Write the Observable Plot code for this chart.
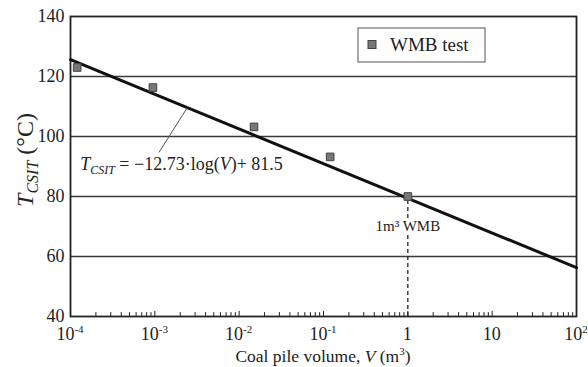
<!DOCTYPE html>
<html><head><meta charset="utf-8">
<script src="https://cdn.jsdelivr.net/npm/d3@7"></script>
<script src="https://cdn.jsdelivr.net/npm/@observablehq/plot@0.6"></script>
<style>
body{margin:0;background:#fff;} svg{display:block;}
svg text, svg tspan { font-family: "Liberation Serif", Tinos, "DejaVu Serif", serif !important; }
</style>
</head><body><div id="chart"></div>
<script>
// WMB test points
const testV = [1.2e-4, 9.5e-4, 0.015, 0.12, 1];
const testT = [123, 116.3, 103.2, 93.2, 80];
// fitted line as drawn
const fitV = [1e-4, 1e2];
const fitT = [125.6, 56.3];
// ticks
const yTicks = [40, 60, 80, 100, 120, 140];
const gridT = [60, 80, 100, 120];
const xTicks = [1e-4, 1e-3, 1e-2, 1e-1, 1, 10, 100];
const xTickBase = ["10", "10", "10", "10", "1", "10", "10"];
const xTickExp = ["-4", "-3", "-2", "-1", "", "", "2"];
const minorMult = [2, 3, 4, 5, 6, 7, 8, 9];
const minorTicks = xTicks.slice(0, -1).flatMap(d => minorMult.map(m => d * m));

const pts = testV.map((v, i) => ({V: v, T: testT[i]}));
const fit = fitV.map((v, i) => ({V: v, T: fitT[i]}));

const plot = Plot.plot({
  width: 588, height: 367,
  marginLeft: 70, marginRight: 12, marginTop: 16, marginBottom: 51,
  style: {fontSize: "16px", color: "#222", background: "#fff"},
  x: {type: "log", domain: [1e-4, 1e2]},
  y: {domain: [40, 140]},
  marks: [
    Plot.ruleY(gridT, {stroke: "#3a3a3a", strokeWidth: 1.5}),
    Plot.ruleX([1], {y1: 40, y2: 80, stroke: "#222", strokeDasharray: "4,3", strokeWidth: 1.3}),
    Plot.ruleX(minorTicks, {y1: 40, y2: 41.3, stroke: "#222", strokeWidth: 1}),
    Plot.ruleX(xTicks, {y1: 40, y2: 41.7, stroke: "#222", strokeWidth: 1}),
    Plot.frame({stroke: "#222", strokeWidth: 1.8}),
    Plot.axisY({ticks: yTicks, tickSize: 0, tickPadding: 6, fontSize: 18, label: null}),
    Plot.axisX({ticks: [], label: null}),
    Plot.line(fit, {x: "V", y: "T", stroke: "#111", strokeWidth: 3}),
    Plot.link([{x1: 1.12e-3, y1: 94.7, x2: 2.4e-3, y2: 109.4}], {x1: "x1", y1: "y1", x2: "x2", y2: "y2", stroke: "#555", strokeWidth: 1}),
    Plot.dot(pts, {x: "V", y: "T", symbol: "square", r: 4.3, fill: "#777", stroke: "#444", strokeWidth: 1}),
    Plot.text(["1m³ WMB"], {x: 1, y: 70, text: d => d, fontSize: 15, fill: "#222", stroke: "white", strokeWidth: 6})
  ]
});
document.getElementById("chart").appendChild(plot);

const sx = plot.scale("x"), sy = plot.scale("y");
const svg = d3.select(plot);

// x tick labels with superscripts
xTicks.forEach((v, i) => {
  const t = svg.append("text").attr("x", sx.apply(v)).attr("y", 340)
    .attr("text-anchor", "middle").attr("font-size", 18).attr("fill", "#222");
  t.append("tspan").text(xTickBase[i]);
  if (xTickExp[i]) t.append("tspan").attr("dy", -7).attr("font-size", 11).text(xTickExp[i]);
});

// x axis label
{
  const t = svg.append("text").attr("x", 323).attr("y", 362).attr("text-anchor", "middle")
    .attr("font-size", 17.5).attr("fill", "#222");
  t.append("tspan").text("Coal pile volume, ");
  t.append("tspan").attr("font-style", "italic").text("V");
  t.append("tspan").text(" (m");
  t.append("tspan").attr("dy", -7).attr("font-size", 11).text("3");
  t.append("tspan").attr("dy", 7).text(")");
}

// y axis label
{
  const t = svg.append("text").attr("transform", "translate(33,160) rotate(-90)")
    .attr("text-anchor", "middle").attr("font-size", 24).attr("fill", "#222");
  t.append("tspan").attr("font-style", "italic").text("T");
  t.append("tspan").attr("font-style", "italic").attr("font-size", 16).attr("dy", 5).text("CSIT");
  t.append("tspan").attr("dy", -5).text(" (°C)");
}

// equation
{
  const t = svg.append("text").attr("x", sx.apply(1.32e-4)).attr("y", sy.apply(88.6))
    .attr("text-anchor", "start").attr("font-size", 18).attr("fill", "#222");
  t.append("tspan").attr("font-style", "italic").text("T");
  t.append("tspan").attr("font-style", "italic").attr("font-size", 12).attr("dy", 4).text("CSIT");
  t.append("tspan").attr("dy", -4).text(" = −12.73·log(");
  t.append("tspan").attr("font-style", "italic").text("V");
  t.append("tspan").text(")+ 81.5");
}

// legend
{
  const g = svg.append("g");
  g.append("rect").attr("x", 358).attr("y", 28).attr("width", 127).attr("height", 34)
    .attr("fill", "white").attr("stroke", "#555").attr("stroke-width", 1);
  g.append("rect").attr("x", 368).attr("y", 40.5).attr("width", 8).attr("height", 8)
    .attr("fill", "#777").attr("stroke", "#444");
  g.append("text").attr("x", 390).attr("y", 51).attr("text-anchor", "start")
    .attr("font-size", 19).attr("fill", "#222").text("WMB test");
}
</script>
</body></html>
